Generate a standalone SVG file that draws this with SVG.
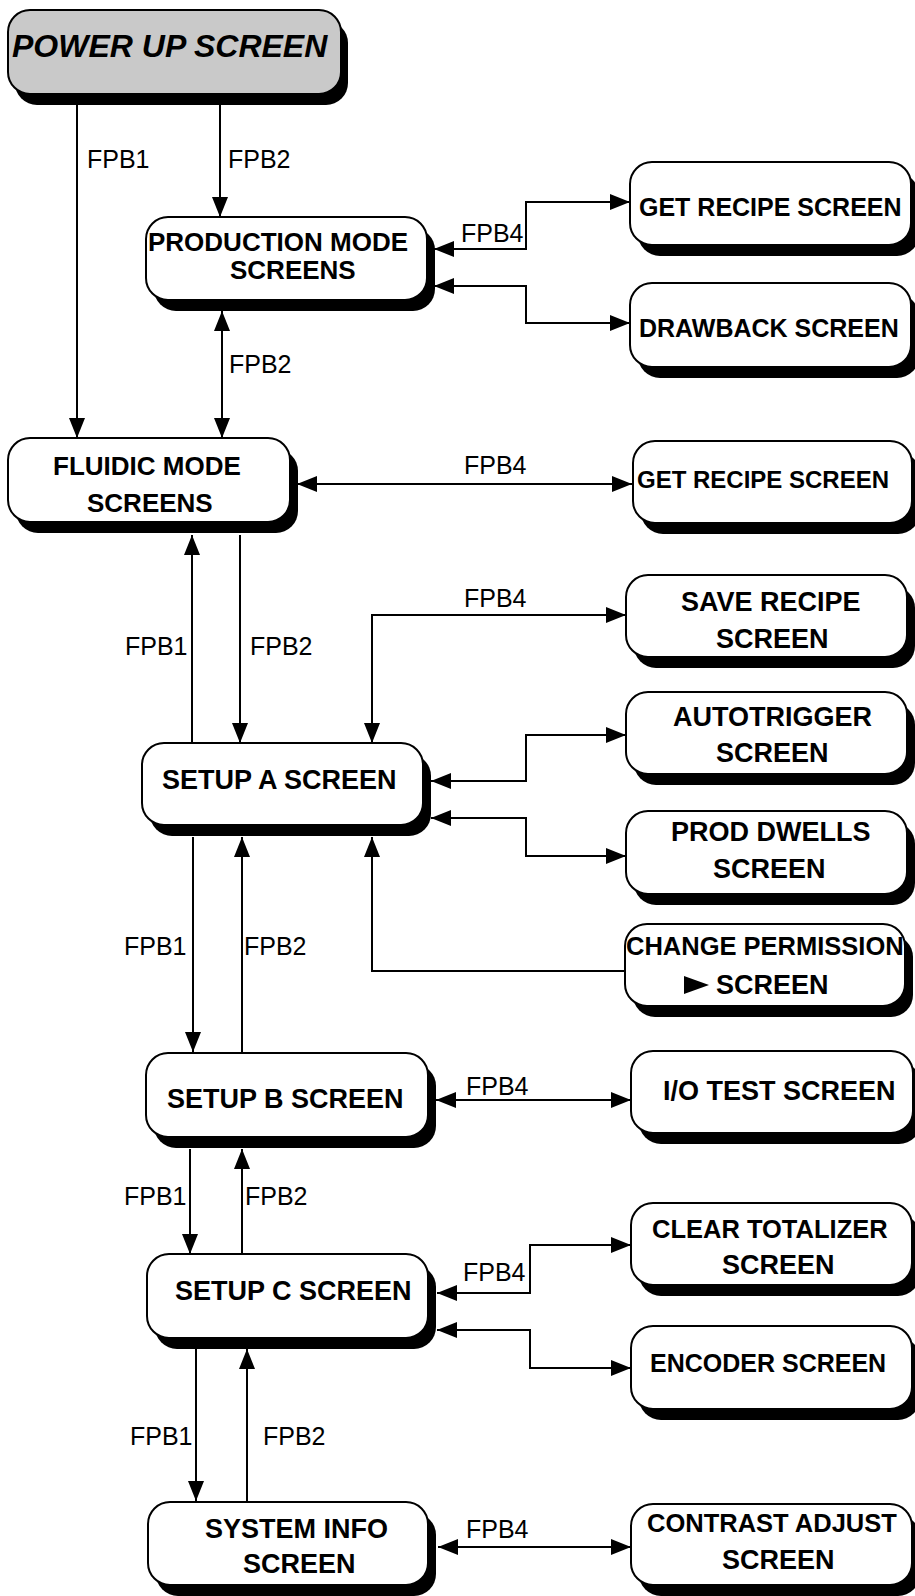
<svg xmlns="http://www.w3.org/2000/svg" width="915" height="1596" viewBox="0 0 915 1596">
<style>
.sh{fill:#000}
.bx{fill:#fff;stroke:#000;stroke-width:2}
.gy{fill:#c9c9c9;stroke:#000;stroke-width:2}
.t{font-family:"Liberation Sans",Arial,sans-serif;font-weight:bold;font-size:27px;fill:#000}
.t26{font-size:26px}
.t25{font-size:25px}
.t255{font-size:25.5px}
.t24{font-size:24px}
.lb{font-family:"Liberation Sans",Arial,sans-serif;font-size:25px;fill:#000}
.c{fill:none;stroke:#000;stroke-width:2}
</style>
<defs>
<marker id="a" viewBox="0 0 20 16" refX="20" refY="8" markerWidth="20" markerHeight="16" markerUnits="userSpaceOnUse" orient="auto-start-reverse">
<path d="M0,0 L20,8 L0,16 Z" fill="#000"/>
</marker>
</defs>
<rect width="915" height="1596" fill="#fff"/>

<g id="powerup">
<rect class="sh" x="15" y="21" width="333" height="84" rx="22"/>
<rect class="gy" x="8" y="10" width="333" height="84" rx="22"/>
<text class="t" x="12" y="57" style="font-size:32px;font-style:italic">POWER UP SCREEN</text>
</g>
<g id="production">
<rect class="sh" x="154" y="228" width="281" height="83" rx="22"/>
<rect class="bx" x="146" y="217" width="281" height="83" rx="22"/>
<text class="t t26" x="148" y="251">PRODUCTION MODE</text>
<text class="t t26" x="230" y="279">SCREENS</text>
</g>
<g id="getrecipe1">
<rect class="sh" x="638" y="173" width="281" height="83" rx="22"/>
<rect class="bx" x="630" y="162" width="281" height="83" rx="22"/>
<text class="t t25" x="639" y="216">GET RECIPE SCREEN</text>
</g>
<g id="drawback">
<rect class="sh" x="638" y="294" width="281" height="84" rx="22"/>
<rect class="bx" x="630" y="283" width="281" height="84" rx="22"/>
<text class="t t25" x="639" y="337">DRAWBACK SCREEN</text>
</g>
<g id="fluidic">
<rect class="sh" x="16" y="449" width="282" height="84" rx="22"/>
<rect class="bx" x="8" y="438" width="282" height="84" rx="22"/>
<text class="t t26" x="53" y="475">FLUIDIC MODE</text>
<text class="t t26" x="87" y="512">SCREENS</text>
</g>
<g id="getrecipe2">
<rect class="sh" x="641" y="452" width="279" height="82" rx="22"/>
<rect class="bx" x="633" y="441" width="279" height="82" rx="22"/>
<text class="t t24" x="637" y="488">GET RECIPE SCREEN</text>
</g>
<g id="saverecipe">
<rect class="sh" x="634" y="586" width="281" height="82" rx="22"/>
<rect class="bx" x="626" y="575" width="281" height="82" rx="22"/>
<text class="t" x="681" y="611">SAVE RECIPE</text>
<text class="t" x="716" y="648">SCREEN</text>
</g>
<g id="autotrigger">
<rect class="sh" x="634" y="703" width="281" height="82" rx="22"/>
<rect class="bx" x="626" y="692" width="281" height="82" rx="22"/>
<text class="t" x="673" y="726">AUTOTRIGGER</text>
<text class="t" x="716" y="762">SCREEN</text>
</g>
<g id="proddwells">
<rect class="sh" x="634" y="822" width="281" height="83" rx="22"/>
<rect class="bx" x="626" y="811" width="281" height="83" rx="22"/>
<text class="t" x="671" y="841">PROD DWELLS</text>
<text class="t" x="713" y="878">SCREEN</text>
</g>
<g id="changeperm">
<rect class="sh" x="633" y="935" width="280" height="82" rx="22"/>
<rect class="bx" x="625" y="924" width="280" height="82" rx="22"/>
<text class="t t255" x="626" y="955">CHANGE PERMISSION</text>
<polygon points="684,976 709,985 684,994" fill="#000"/>
<text class="t" x="716" y="994">SCREEN</text>
</g>
<g id="setupa">
<rect class="sh" x="150" y="754" width="281" height="82" rx="22"/>
<rect class="bx" x="142" y="743" width="281" height="82" rx="22"/>
<text class="t" x="162" y="789">SETUP A SCREEN</text>
</g>
<g id="setupb">
<rect class="sh" x="154" y="1064" width="282" height="84" rx="22"/>
<rect class="bx" x="146" y="1053" width="282" height="84" rx="22"/>
<text class="t" x="167" y="1108">SETUP B SCREEN</text>
</g>
<g id="iotest">
<rect class="sh" x="639" y="1062" width="282" height="82" rx="22"/>
<rect class="bx" x="631" y="1051" width="282" height="82" rx="22"/>
<text class="t" x="663" y="1100">I/O TEST SCREEN</text>
</g>
<g id="setupc">
<rect class="sh" x="155" y="1265" width="281" height="84" rx="22"/>
<rect class="bx" x="147" y="1254" width="281" height="84" rx="22"/>
<text class="t" x="175" y="1300">SETUP C SCREEN</text>
</g>
<g id="cleartotalizer">
<rect class="sh" x="639" y="1214" width="281" height="82" rx="22"/>
<rect class="bx" x="631" y="1203" width="281" height="82" rx="22"/>
<text class="t t255" x="652" y="1238">CLEAR TOTALIZER</text>
<text class="t" x="722" y="1274">SCREEN</text>
</g>
<g id="encoder">
<rect class="sh" x="639" y="1337" width="281" height="83" rx="22"/>
<rect class="bx" x="631" y="1326" width="281" height="83" rx="22"/>
<text class="t t25" x="650" y="1372">ENCODER SCREEN</text>
</g>
<g id="sysinfo">
<rect class="sh" x="156" y="1513" width="280" height="83" rx="22"/>
<rect class="bx" x="148" y="1502" width="280" height="83" rx="22"/>
<text class="t" x="205" y="1538">SYSTEM INFO</text>
<text class="t" x="243" y="1573">SCREEN</text>
</g>
<g id="contrast">
<rect class="sh" x="639" y="1515" width="281" height="81" rx="22"/>
<rect class="bx" x="631" y="1504" width="281" height="81" rx="22"/>
<text class="t t255" x="647" y="1532">CONTRAST ADJUST</text>
<text class="t" x="722" y="1569">SCREEN</text>
</g>

<g id="connectors">
<path class="c" d="M77,104 V438" marker-end="url(#a)"/>
<path class="c" d="M220,104 V217" marker-end="url(#a)"/>
<path class="c" d="M222,311 V438" marker-start="url(#a)" marker-end="url(#a)"/>
<path class="c" d="M434,249 H526 V202 H630" marker-start="url(#a)" marker-end="url(#a)"/>
<path class="c" d="M434,286 H526 V323 H630" marker-start="url(#a)" marker-end="url(#a)"/>
<path class="c" d="M297,484 H632" marker-start="url(#a)" marker-end="url(#a)"/>
<path class="c" d="M192,743 V535" marker-end="url(#a)"/>
<path class="c" d="M240,535 V743" marker-end="url(#a)"/>
<path class="c" d="M372,743 V615 H626" marker-start="url(#a)" marker-end="url(#a)"/>
<path class="c" d="M431,781 H526 V735 H626" marker-start="url(#a)" marker-end="url(#a)"/>
<path class="c" d="M431,818 H526 V856 H626" marker-start="url(#a)" marker-end="url(#a)"/>
<path class="c" d="M625,971 H372 V837" marker-end="url(#a)"/>
<path class="c" d="M193,837 V1052" marker-end="url(#a)"/>
<path class="c" d="M242,1053 V837" marker-end="url(#a)"/>
<path class="c" d="M436,1100 H631" marker-start="url(#a)" marker-end="url(#a)"/>
<path class="c" d="M190,1149 V1254" marker-end="url(#a)"/>
<path class="c" d="M242,1254 V1149" marker-end="url(#a)"/>
<path class="c" d="M437,1293 H530 V1245 H631" marker-start="url(#a)" marker-end="url(#a)"/>
<path class="c" d="M437,1330 H530 V1368 H631" marker-start="url(#a)" marker-end="url(#a)"/>
<path class="c" d="M196,1349 V1501" marker-end="url(#a)"/>
<path class="c" d="M247,1501 V1349" marker-end="url(#a)"/>
<path class="c" d="M438,1547 H631" marker-start="url(#a)" marker-end="url(#a)"/>
</g>

<g id="labels">
<text class="lb" x="87" y="168">FPB1</text>
<text class="lb" x="228" y="168">FPB2</text>
<text class="lb" x="229" y="373">FPB2</text>
<text class="lb" x="461" y="242">FPB4</text>
<text class="lb" x="464" y="474">FPB4</text>
<text class="lb" x="464" y="607">FPB4</text>
<text class="lb" x="125" y="655">FPB1</text>
<text class="lb" x="250" y="655">FPB2</text>
<text class="lb" x="124" y="955">FPB1</text>
<text class="lb" x="244" y="955">FPB2</text>
<text class="lb" x="466" y="1095">FPB4</text>
<text class="lb" x="124" y="1205">FPB1</text>
<text class="lb" x="245" y="1205">FPB2</text>
<text class="lb" x="463" y="1281">FPB4</text>
<text class="lb" x="130" y="1445">FPB1</text>
<text class="lb" x="263" y="1445">FPB2</text>
<text class="lb" x="466" y="1538">FPB4</text>
</g>
</svg>
